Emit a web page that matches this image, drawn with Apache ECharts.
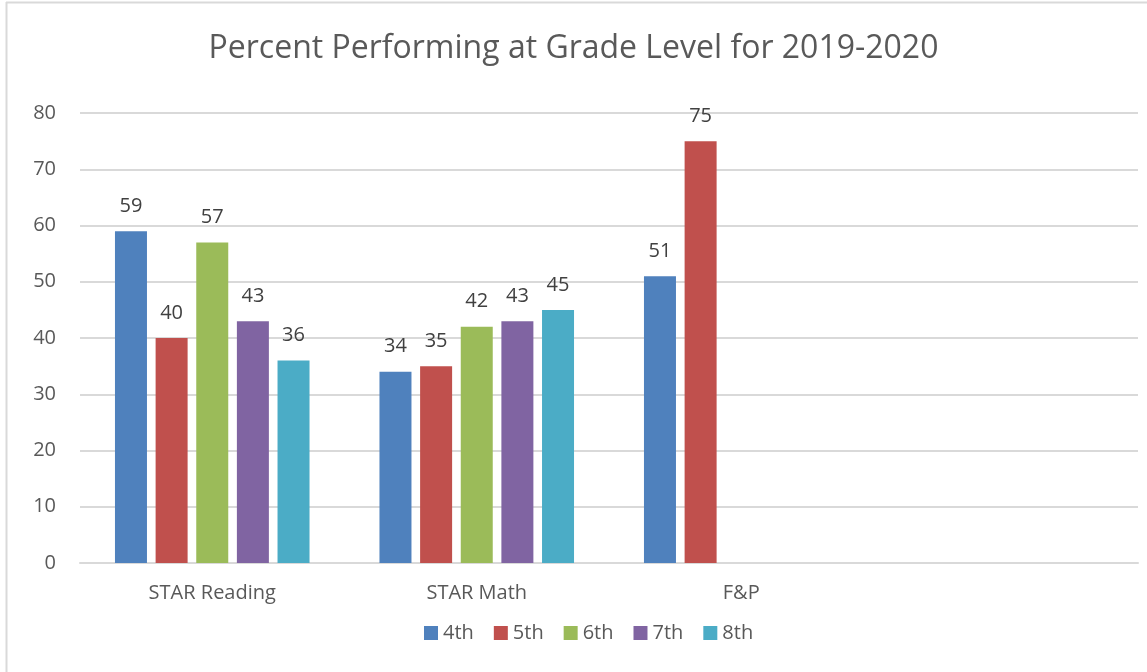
<!DOCTYPE html>
<html>
<head>
<meta charset="utf-8">
<script src="https://cdn.jsdelivr.net/npm/echarts@6/dist/echarts.min.js"></script>
<style>
  html, body { margin: 0; padding: 0; background: #fff; }
  #chart { width: 1147px; height: 672px; }
</style>
</head>
<body>
<div id="chart"></div>
<script>
  // 类目与数据
  const categories = ['STAR Reading', 'STAR Math', 'F&P', ''];
  const seriesNames = ['4th', '5th', '6th', '7th', '8th'];
  const grade4 = [59, 34, 51, null];
  const grade5 = [40, 35, 75, null];
  const grade6 = [57, 42, null, null];
  const grade7 = [43, 43, null, null];
  const grade8 = [36, 45, null, null];
  const colorList = ['#4F81BD', '#C0504D', '#9BBB59', '#8064A2', '#4BACC6'];

  const allData = [grade4, grade5, grade6, grade7, grade8];
  const fontFamily = 'Open Sans';

  let myChart = echarts.init(document.getElementById('chart'));
  let option = {
    color: colorList,
    textStyle: { fontFamily: fontFamily },
    title: {
      text: 'Percent Performing at Grade Level for 2019-2020',
      left: 'center',
      top: 28,
      textStyle: { color: '#595959', fontSize: 32, fontWeight: 'normal', fontFamily: fontFamily }
    },
    graphic: [
      // 外边框（上、左）
      { type: 'line', shape: { x1: 6, y1: 2.5, x2: 1147, y2: 2.5 }, style: { stroke: '#d9d9d9', lineWidth: 2 } },
      { type: 'line', shape: { x1: 6.5, y1: 2, x2: 6.5, y2: 672 }, style: { stroke: '#d9d9d9', lineWidth: 2 } }
    ],
    legend: {
      data: seriesNames,
      bottom: 24,
      left: 419,
      itemWidth: 14,
      itemHeight: 14,
      itemGap: 20,
      icon: 'rect',
      textStyle: { color: '#595959', fontSize: 20, fontFamily: fontFamily }
    },
    grid: { left: 80, right: 9, top: 113, bottom: 109 },
    xAxis: {
      type: 'category',
      data: categories,
      axisLine: { lineStyle: { color: '#d9d9d9', width: 2 } },
      axisTick: { show: false },
      axisLabel: { color: '#595959', fontSize: 20, margin: 20 }
    },
    yAxis: {
      type: 'value',
      min: 0,
      max: 80,
      interval: 10,
      axisLine: { show: false },
      axisTick: { show: false },
      splitLine: { lineStyle: { color: '#d9d9d9', width: 2 } },
      axisLabel: { color: '#595959', fontSize: 20, margin: 24 }
    },
    series: seriesNames.map((name, i) => ({
      name: name,
      type: 'bar',
      data: allData[i],
      barWidth: 32,
      barGap: '27%',
      label: {
        show: true,
        position: 'top',
        distance: 15,
        color: '#404040',
        fontSize: 20,
        fontFamily: fontFamily
      }
    }))
  };
  myChart.setOption(option);
</script>
</body>
</html>
